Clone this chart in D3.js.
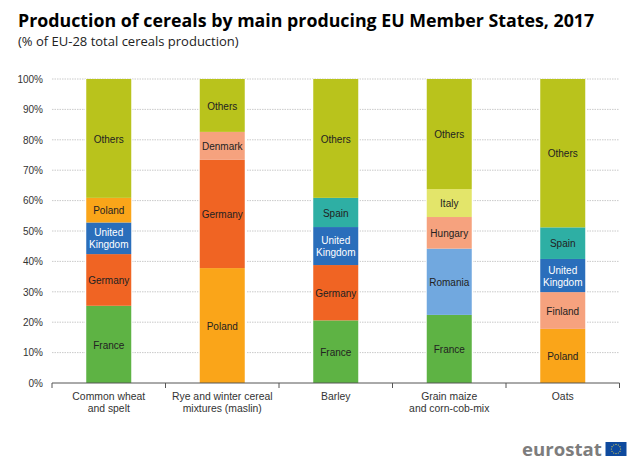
<!DOCTYPE html>
<html>
<head>
<meta charset="utf-8">
<script src="https://d3js.org/d3.v7.min.js"></script>
<style>
html, body { margin: 0; padding: 0; background: #fff; }
svg { display: block; }
</style>
</head>
<body>
<div id="chart"></div>
<script>
var categories = [
	["Common wheat", "and spelt"],
	["Rye and winter cereal", "mixtures (maslin)"],
	["Barley"],
	["Grain maize", "and corn-cob-mix"],
	["Oats"]
];
var yTicks = [0, 10, 20, 30, 40, 50, 60, 70, 80, 90, 100];

// shares bottom to top, one list per cereal
var wheatNames = ["France", "Germany", "United Kingdom", "Poland", "Others"];
var wheatValues = [25.4, 17.0, 10.4, 8.1, 39.1];
var ryeNames = ["Poland", "Germany", "Denmark", "Others"];
var ryeValues = [37.8, 35.6, 9.2, 17.4];
var barleyNames = ["France", "Germany", "United Kingdom", "Spain", "Others"];
var barleyValues = [20.6, 18.2, 12.5, 9.6, 39.1];
var maizeNames = ["France", "Romania", "Hungary", "Italy", "Others"];
var maizeValues = [22.4, 21.8, 10.4, 9.2, 36.2];
var oatsNames = ["Poland", "Finland", "United Kingdom", "Spain", "Others"];
var oatsValues = [17.8, 12.1, 10.9, 10.4, 48.8];

var countryColors = {
	"France": "#5eb344",
	"Germany": "#f06423",
	"United Kingdom": "#2a6ebb",
	"Poland": "#faa519",
	"Others": "#b9c31c",
	"Denmark": "#f6a27e",
	"Spain": "#2eafa4",
	"Romania": "#71a8df",
	"Hungary": "#f6a27e",
	"Italy": "#e3e56a",
	"Finland": "#f6a27e"
};

var names = [wheatNames, ryeNames, barleyNames, maizeNames, oatsNames];
var values = [wheatValues, ryeValues, barleyValues, maizeValues, oatsValues];

var svg = d3.select("#chart").append("svg")
	.attr("width", 640)
	.attr("height", 466);

var x = d3.scaleBand().domain(d3.range(categories.length)).range([52, 619.5]);
var y = d3.scaleLinear().domain([0, 100]).range([383, 79]);
var barWidth = 45;

svg.append("text")
	.attr("x", 18).attr("y", 26.5)
	.attr("font-family", "Open Sans")
	.attr("font-weight", 700)
	.attr("font-size", 17.8)
	.attr("fill", "#000")
	.text("Production of cereals by main producing EU Member States, 2017");

svg.append("text")
	.attr("x", 18).attr("y", 46)
	.attr("font-family", "Open Sans")
	.attr("font-size", 13)
	.attr("fill", "#222")
	.text("(% of EU-28 total cereals production)");

// gridlines
svg.append("g").selectAll("line")
	.data(yTicks.filter(function(d) { return d > 0; }))
	.enter().append("line")
	.attr("x1", 52).attr("x2", 619.5)
	.attr("y1", function(d) { return y(d); })
	.attr("y2", function(d) { return y(d); })
	.attr("stroke", "#bdbdbd")
	.attr("stroke-width", 0.8)
	.attr("stroke-dasharray", "1.5 1");

// y axis, labels only
var yAxis = svg.append("g")
	.attr("transform", "translate(52,0)")
	.call(d3.axisLeft(y).tickValues(yTicks).tickSize(0).tickPadding(9).tickFormat(function(d) { return d + "%"; }));
yAxis.select(".domain").remove();
yAxis.selectAll("text")
	.attr("font-family", "Liberation Sans")
	.attr("font-size", 10)
	.attr("fill", "#333");

// bars
categories.forEach(function(c, i) {
	var tops = d3.cumsum(values[i]);
	var segments = values[i].map(function(v, j) {
		return { name: names[i][j], low: tops[j] - v, high: tops[j] };
	});
	var cx = x(i) + x.bandwidth() / 2;
	var g = svg.append("g");

	// thin pale edge, breaks the gridlines next to the bar
	g.append("rect")
		.attr("x", cx - barWidth / 2 - 1.2)
		.attr("y", y(100))
		.attr("width", barWidth + 2.4)
		.attr("height", y(0) - y(100))
		.attr("fill", "#fff");

	g.selectAll("rect.seg")
		.data(segments)
		.enter().append("rect")
		.attr("class", "seg")
		.attr("x", cx - barWidth / 2)
		.attr("y", function(d) { return y(d.high); })
		.attr("width", barWidth)
		.attr("height", function(d) { return y(d.low) - y(d.high); })
		.attr("fill", function(d) { return countryColors[d.name]; });

	g.selectAll("text")
		.data(segments)
		.enter().append("text")
		.attr("text-anchor", "middle")
		.attr("font-family", "Liberation Sans")
		.attr("font-size", 10)
		.attr("fill", function(d) { return d.name == "United Kingdom" ? "#fff" : "#222"; })
		.each(function(d) {
			var mid = y((d.low + d.high) / 2);
			var lines = d.name == "United Kingdom" ? ["United", "Kingdom"] : [d.name];
			d3.select(this).selectAll("tspan")
				.data(lines)
				.enter().append("tspan")
				.attr("x", cx)
				.attr("y", function(l, k) { return mid + 4.2 + (k - (lines.length - 1) / 2) * 12; })
				.text(function(l) { return l; });
		});
});

// x axis with ticks between the categories
svg.append("line")
	.attr("x1", 52).attr("x2", 619.5)
	.attr("y1", 383).attr("y2", 383)
	.attr("stroke", "#555").attr("stroke-width", 1);

svg.append("g").selectAll("line")
	.data(d3.range(categories.length + 1))
	.enter().append("line")
	.attr("x1", function(d) { return 52 + d * x.bandwidth(); })
	.attr("x2", function(d) { return 52 + d * x.bandwidth(); })
	.attr("y1", 383).attr("y2", 388)
	.attr("stroke", "#555");

categories.forEach(function(c, i) {
	svg.append("text")
		.attr("text-anchor", "middle")
		.attr("font-family", "Liberation Sans")
		.attr("font-size", 10.4)
		.attr("fill", "#333")
		.selectAll("tspan")
		.data(c)
		.enter().append("tspan")
		.attr("x", x(i) + x.bandwidth() / 2)
		.attr("y", function(d, k) { return 400 + k * 12; })
		.text(function(d) { return d; });
});

// eurostat logo
svg.append("text")
	.attr("x", 522).attr("y", 455.5)
	.attr("font-family", "Open Sans")
	.attr("font-weight", 700)
	.attr("font-size", 18.6)
	.attr("fill", "#7d7d7d")
	.text("eurostat");

svg.append("rect")
	.attr("x", 605.5).attr("y", 442)
	.attr("width", 21).attr("height", 14)
	.attr("fill", "#0e4a9e");

svg.append("g").selectAll("circle")
	.data(d3.range(12))
	.enter().append("circle")
	.attr("cx", function(d) { return 616 + 4.6 * Math.cos(d * Math.PI / 6); })
	.attr("cy", function(d) { return 449 + 4.6 * Math.sin(d * Math.PI / 6); })
	.attr("r", 0.6)
	.attr("fill", "#e8d44d");
</script>
</body>
</html>
